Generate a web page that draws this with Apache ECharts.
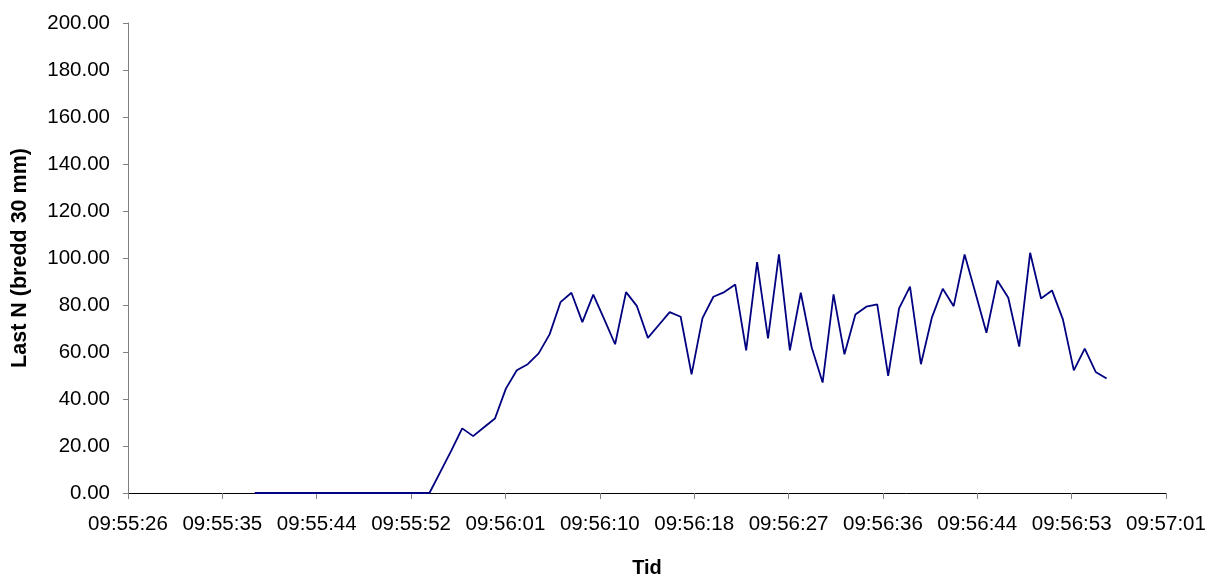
<!DOCTYPE html>
<html>
<head>
<meta charset="utf-8">
<script src="https://cdn.jsdelivr.net/npm/echarts@6/dist/echarts.min.js"></script>
<style>
html,body{margin:0;padding:0;background:#fff;}
#chart{width:1218px;height:583px;}
</style>
</head>
<body>
<div id="chart"></div>
<script>
// Sample times (hh:mm:ss), one per second
var times = [
"09:55:38","09:55:39","09:55:40","09:55:41","09:55:42","09:55:43","09:55:44","09:55:45","09:55:46","09:55:47",
"09:55:48","09:55:49","09:55:50","09:55:51","09:55:52","09:55:53","09:55:54","09:55:55","09:55:56","09:55:57",
"09:55:58","09:55:59","09:56:00","09:56:01","09:56:02","09:56:03","09:56:04","09:56:05","09:56:06","09:56:07",
"09:56:08","09:56:09","09:56:10","09:56:11","09:56:12","09:56:13","09:56:14","09:56:15","09:56:16","09:56:17",
"09:56:18","09:56:19","09:56:20","09:56:21","09:56:22","09:56:23","09:56:24","09:56:25","09:56:26","09:56:27",
"09:56:28","09:56:29","09:56:30","09:56:31","09:56:32","09:56:33","09:56:34","09:56:35","09:56:36","09:56:37",
"09:56:38","09:56:39","09:56:40","09:56:41","09:56:42","09:56:43","09:56:44","09:56:45","09:56:46","09:56:47",
"09:56:48","09:56:49","09:56:50","09:56:51","09:56:52","09:56:53","09:56:54","09:56:55","09:56:56"
];
// Load N
var load = [
0,0,0,0,0,0,0,0,0,0,
0,0,0,0,0,0,0,9,18,27.5,
24.2,28,31.7,44.4,52.2,54.8,59.4,67.5,81.2,85.2,
72.7,84.4,74,63.3,85.5,79.5,66.0,71.5,77.0,75.0,
50.5,74.4,83.5,85.5,88.7,60.7,98.2,65.8,101.5,60.7,
85.2,61.9,47.0,84.5,59.0,76.0,79.3,80.3,49.8,78.6,
87.8,54.8,74.6,86.9,79.5,101.5,85,68.2,90.4,83.1,
62.3,102.2,82.8,86.2,73.9,52.2,61.4,51.5,48.7
];
// Axis setup (fractions of a day, as in the source). Major unit 0.0001 day = 8.64 s
var xMinDays = 0.4135, xMaxDays = 0.4146, xStepDays = 0.0001;
var yMin = 0, yMax = 200, yStep = 20;
var yTitle = "Last N (bredd 30 mm)";
var xTitle = "Tid";

function toSec(t){var p=t.split(":");return (+p[0])*3600+(+p[1])*60+(+p[2]);}
function pad(n){return (n<10?"0":"")+n;}
function fmtSec(v){var s=Math.round(v);var h=Math.floor(s/3600);var m=Math.floor((s%3600)/60);var ss=s%60;return pad(h)+":"+pad(m)+":"+pad(ss);}

var data = times.map(function(t,i){return [toSec(t), load[i]];});
var font = "'Liberation Sans', Arial, sans-serif";

var chart = echarts.init(document.getElementById('chart'), null, {renderer:'canvas'});
chart.setOption({
  animation:false,
  backgroundColor:'#ffffff',
  grid:{left:128, top:23, width:1038, height:471, containLabel:false},
  xAxis:{
    type:'value',
    min: xMinDays*86400,
    max: xMaxDays*86400,
    interval: xStepDays*86400,
    splitLine:{show:false},
    axisLine:{show:true, lineStyle:{color:'#000', width:1}},
    axisTick:{show:true, inside:false, length:6, lineStyle:{color:'#808080'}},
    axisLabel:{color:'#000', fontFamily:font, fontSize:20.5, margin:21, formatter:function(v){return fmtSec(v);}, showMinLabel:true, showMaxLabel:true},
    name:xTitle, nameLocation:'middle', nameGap:65,
    nameTextStyle:{color:'#000', fontFamily:font, fontSize:20, fontWeight:'bold'}
  },
  yAxis:{
    type:'value',
    min:yMin, max:yMax, interval:yStep,
    splitLine:{show:false},
    axisLine:{show:true, lineStyle:{color:'#808080', width:1}},
    axisTick:{show:true, inside:false, length:5, lineStyle:{color:'#808080'}},
    axisLabel:{color:'#000', fontFamily:font, fontSize:20.5, margin:18, formatter:function(v){return v.toFixed(2);}},
    name:yTitle, nameLocation:'middle', nameGap:97, nameRotate:90,
    nameTextStyle:{color:'#000', fontFamily:font, fontSize:21.5, fontWeight:'bold'}
  },
  series:[{
    type:'line',
    data:data,
    showSymbol:false,
    symbol:'none',
    lineStyle:{color:'#000080', width:1.8},
    itemStyle:{color:'#000080'}
  }]
});
</script>
</body>
</html>
